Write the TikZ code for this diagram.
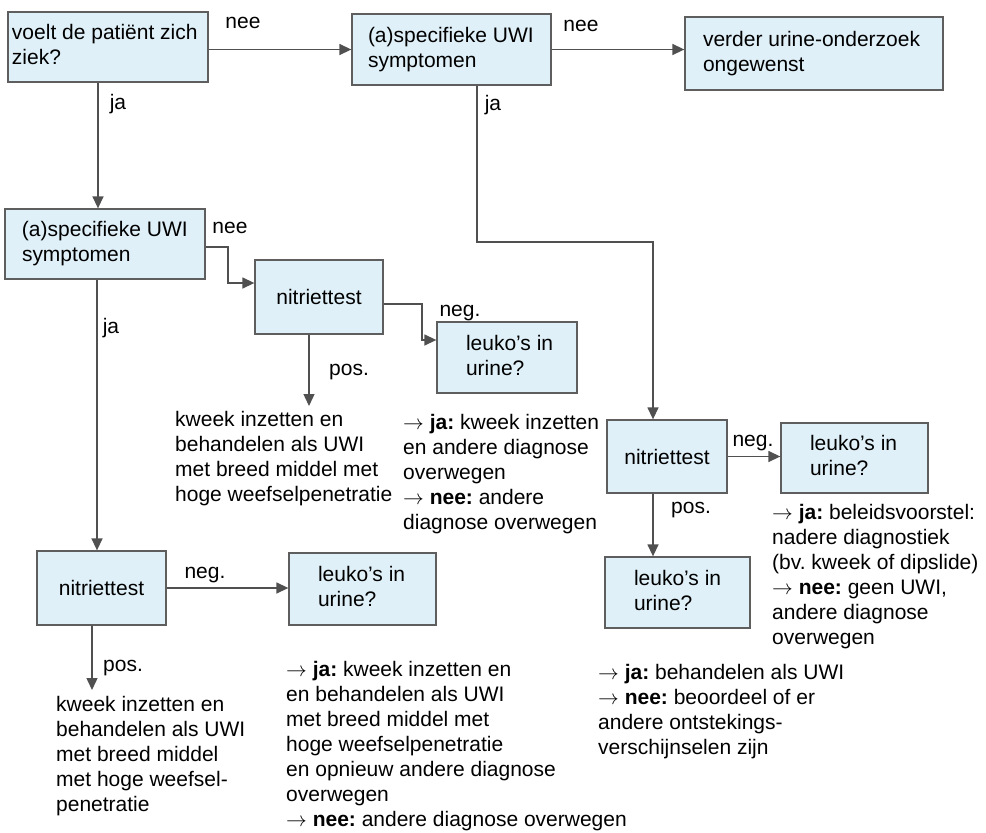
\documentclass[tikz,border=0pt]{standalone}
\usepackage{fontspec}
\setmainfont{Liberation Sans}
\usetikzlibrary{arrows.meta}
\definecolor{boxfill}{HTML}{DFF0F8}
\definecolor{boxline}{HTML}{5E5E5E}
\definecolor{lineclr}{HTML}{505050}
\newcommand\inbox[3]{\makebox[#1][l]{\hspace*{#2}\begin{tabular}{@{}l@{}}#3\end{tabular}}}
\newcommand\blk[1]{\begin{tabular}[t]{@{}l@{}}#1\end{tabular}}
\newcommand\ar{$\rightarrow$}
\frenchspacing
\begin{document}
\begin{tikzpicture}[x=1pt,y=-1pt,
  font=\fontsize{21}{25}\selectfont\frenchspacing,
  ubox/.style={draw=boxline, fill=boxfill, line width=1.3pt, inner xsep=0pt, inner ysep=0pt, anchor=center},
  arr/.style={draw=lineclr, line width=1.4pt, -{Triangle[length=12pt,width=11pt]}},
  lbl/.style={inner sep=0pt, anchor=base},
  txt/.style={inner sep=0pt, anchor=base west}]
\useasboundingbox (0,0) rectangle (986,833);

% boxes
\node[ubox, minimum height=70pt] (b1) at (108,47) {\inbox{200pt}{4pt}{voelt de patiënt zich\\ziek?}};
\node[ubox, minimum height=71pt] (b2) at (451.5,49.5) {\inbox{199pt}{16pt}{(a)specifieke UWI\\symptomen}};
\node[ubox, minimum height=73pt] (b3) at (814,53.5) {\inbox{258pt}{18pt}{verder urine-onderzoek\\ongewenst}};
\node[ubox, minimum height=70pt] (b4) at (105,244) {\inbox{200pt}{17pt}{(a)specifieke UWI\\symptomen}};
\node[ubox, minimum width=128pt, minimum height=74pt] (b5) at (319,297) {nitriettest};
\node[ubox, minimum height=71pt] (b6) at (507,357.5) {\inbox{140pt}{29pt}{leuko’s in\\urine?}};
\node[ubox, minimum width=120pt, minimum height=73pt] (b7) at (667,456.5) {nitriettest};
\node[ubox, minimum height=70pt] (b8) at (854.5,458) {\inbox{147pt}{29pt}{leuko’s in\\urine?}};
\node[ubox, minimum height=71pt] (b9) at (677.5,592.5) {\inbox{145pt}{29pt}{leuko’s in\\urine?}};
\node[ubox, minimum width=129pt, minimum height=74pt] (b10) at (101.5,588) {nitriettest};
\node[ubox, minimum height=72pt] (b11) at (362.5,589) {\inbox{147pt}{29pt}{leuko’s in\\urine?}};

% outcome texts
\node[txt] (t1) at (175,426) {\blk{kweek inzetten en\\behandelen als UWI\\met breed middel met\\hoge weefselpenetratie}};
\node[txt] (t2) at (403,429) {\blk{\ar{} \textbf{ja:} kweek inzetten\\en andere diagnose\\overwegen\\\ar{} \textbf{nee:} andere\\diagnose overwegen}};
\node[txt] (t3) at (772,519) {\blk{\ar{} \textbf{ja:} beleidsvoorstel:\\nadere diagnostiek\\(bv. kweek of dipslide)\\\ar{} \textbf{nee:} geen UWI,\\andere diagnose\\overwegen}};
\node[txt] (t4) at (56,711) {\blk{kweek inzetten en\\behandelen als UWI\\met breed middel\\met hoge weefsel-\\penetratie}};
\node[txt] (t5) at (286,676) {\blk{\ar{} \textbf{ja:} kweek inzetten en\\en behandelen als UWI\\met breed middel met\\hoge weefselpenetratie\\en opnieuw andere diagnose\\overwegen\\\ar{} \textbf{nee:} andere diagnose overwegen}};
\node[txt] (t6) at (598,679) {\blk{\ar{} \textbf{ja:} behandelen als UWI\\\ar{} \textbf{nee:} beoordeel of er\\andere ontstekings-\\verschijnselen zijn}};

% bend points
\coordinate (x98) at (98,0);
\coordinate (x97) at (97,0);
\coordinate (k1) at (477,242);
\coordinate (k2) at (653,242);
\coordinate (k3) at (228,247);
\coordinate (k4) at (228,283);
\coordinate (k5) at (422,304);
\coordinate (k6) at (422,340);
\coordinate (k7) at (309,406);
\coordinate (k8) at (92,690);

% connectors
\draw[arr] (b1.east |- b2.west) -- (b2.west);
\draw[arr] (b2.east) -- (b2.east -| b3.west);
\draw[arr] (b1.south -| x98) -- (b4.north -| x98);
\draw[arr] (b2.south -| k1) -- (k1) -- (k2) -- (b7.north -| k2);
\draw[arr] (b4.east |- k3) -- (k3) -- (k4) -- (b5.west |- k4);
\draw[arr] (b5.east |- k5) -- (k5) -- (k6) -- (b6.west |- k6);
\draw[arr] (b5.south -| k7) -- (k7);
\draw[arr] (b4.south -| x97) -- (b10.north -| x97);
\draw[arr] (b7.east) -- (b7.east -| b8.west);
\draw[arr] (b7.south -| k2) -- (b9.north -| k2);
\draw[arr] (b10.east) -- (b10.east -| b11.west);
\draw[arr] (b10.south -| k8) -- (k8);

% labels
\node[lbl] (l1) at (243,28) {nee};
\node[lbl] (l2) at (581,31) {nee};
\node[lbl] (l3) at (118,109) {ja};
\node[lbl] (l4) at (493,110) {ja};
\node[lbl] (l5) at (230,233) {nee};
\node[lbl] (l6) at (460,316) {neg.};
\node[lbl] (l7) at (349,375) {pos.};
\node[lbl] (l8) at (111,333) {ja};
\node[lbl] (l9) at (753,446) {neg.};
\node[lbl] (l10) at (691,513) {pos.};
\node[lbl] (l11) at (205,578) {neg.};
\node[lbl] (l12) at (123,671) {pos.};
\end{tikzpicture}
\end{document}
